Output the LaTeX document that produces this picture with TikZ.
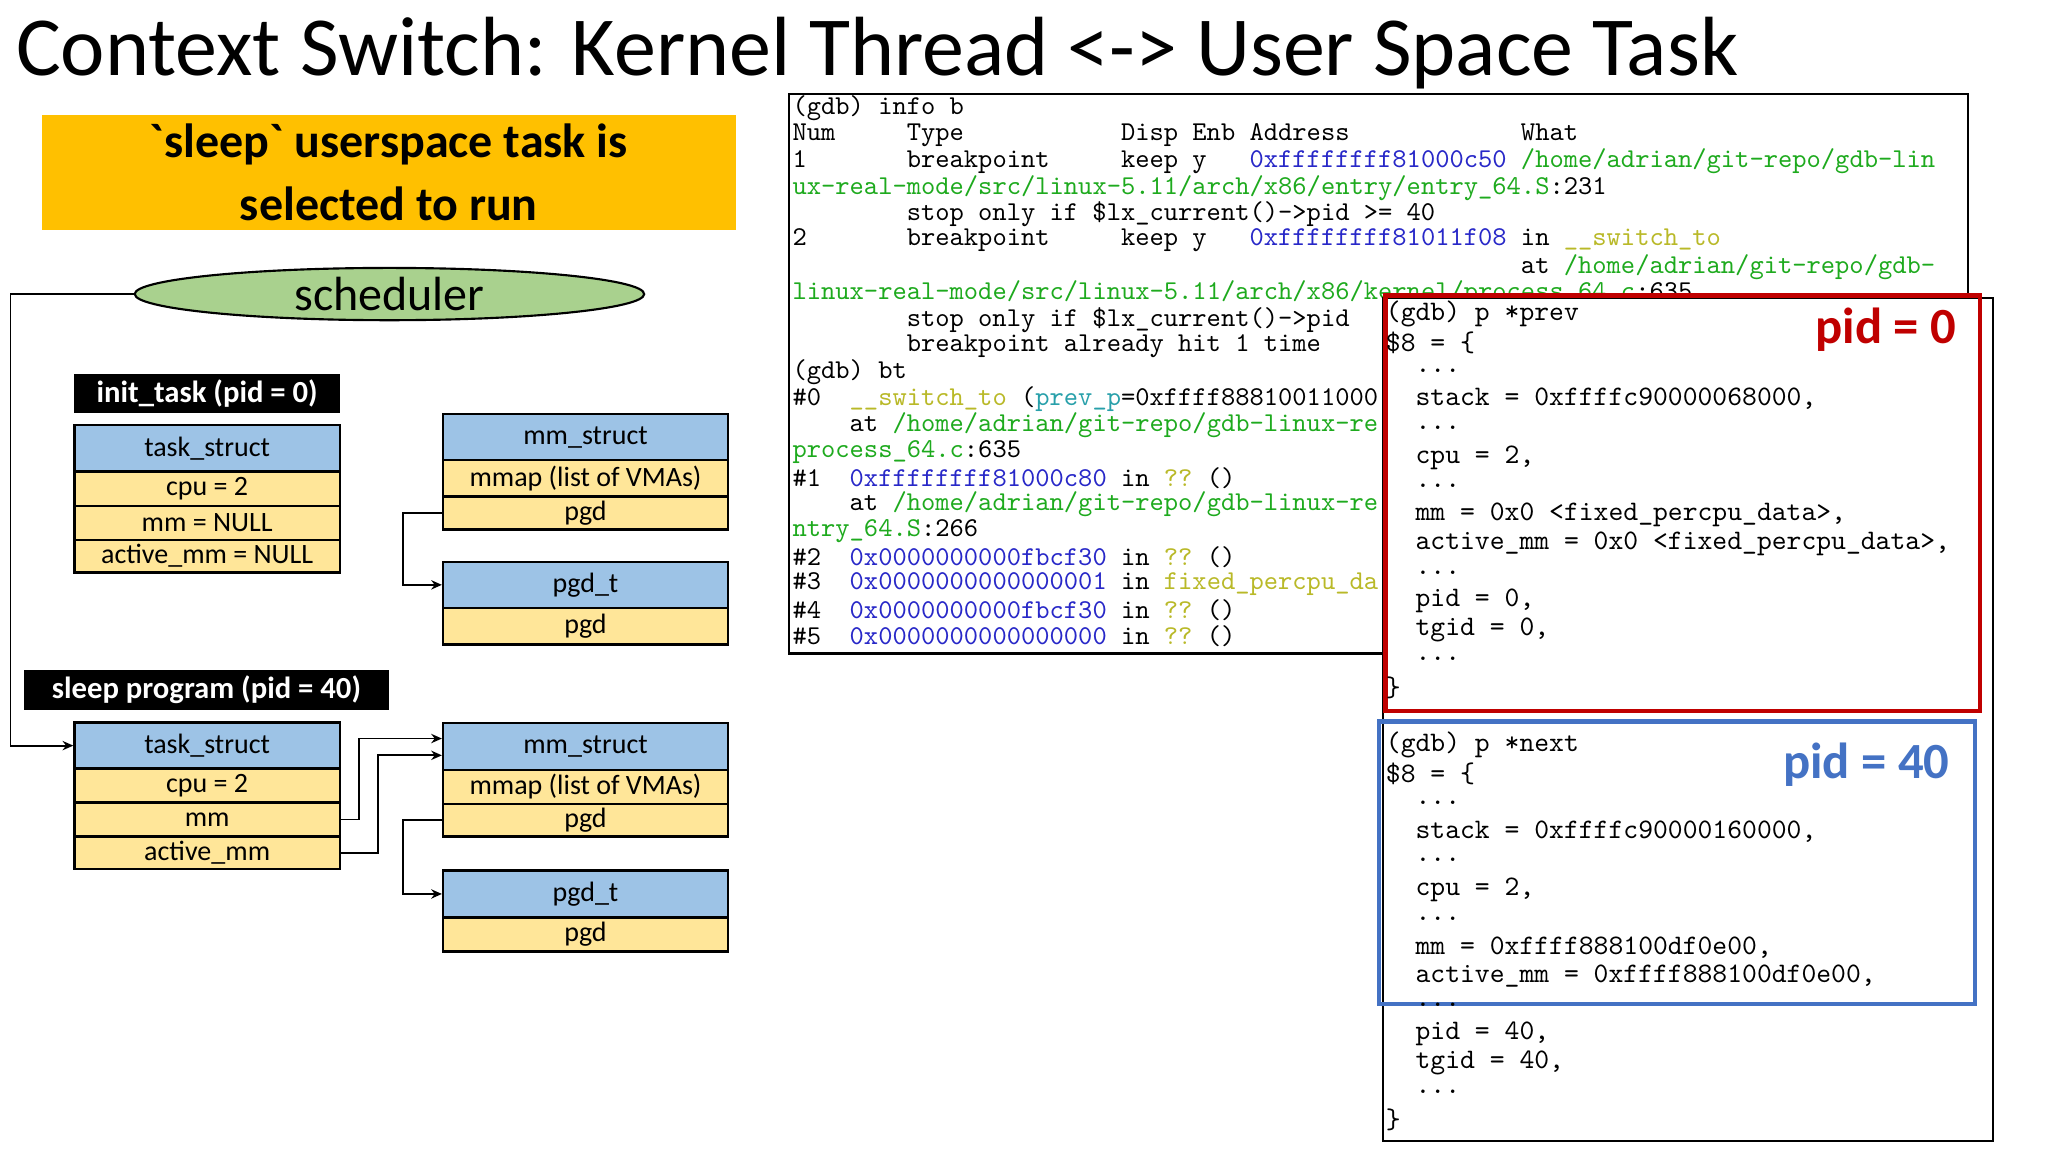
\documentclass[tikz,border=0pt]{standalone}
\usepackage{fontspec}
\setmainfont{Carlito}
\usetikzlibrary{arrows.meta,shapes.geometric}
\definecolor{hblue}{RGB}{157,195,230}
\definecolor{ryel}{RGB}{255,230,153}
\definecolor{org}{RGB}{255,192,0}
\definecolor{sgreen}{RGB}{169,209,142}
\definecolor{gg}{RGB}{30,170,30}
\definecolor{gb}{RGB}{40,40,200}
\definecolor{gy}{RGB}{185,185,40}
\definecolor{gc}{RGB}{40,160,170}
\definecolor{pred}{RGB}{192,0,0}
\definecolor{pblue}{RGB}{68,114,196}
\newcommand{\gl}[3]{\node[gline] (#1) at (606,{83+20.2*#2}) {#3};}
\newcommand{\pl}[3]{\node[pline] (#1) at (1060,#2) {#3};}
\newcommand{\G}[1]{\textcolor{gg}{#1}}
\newcommand{\B}[1]{\textcolor{gb}{#1}}
\newcommand{\Y}[1]{\textcolor{gy}{#1}}
\begin{document}
\begin{tikzpicture}[x=0.49pt,y=-0.49pt,
  tb/.style={draw, line width=0.9pt, inner sep=0pt, font=\fontsize{10.5}{12}\selectfont},
  hdr/.style={tb, fill=hblue, minimum width=99.5pt, minimum height=17.4pt},
  row/.style={tb, fill=ryel, minimum width=99.5pt},
  mhdr/.style={hdr, minimum width=106.8pt},
  mrow/.style={row, minimum width=106.8pt},
  lbl/.style={fill=black, text=white, inner sep=0pt, minimum height=14.7pt, font=\bfseries\fontsize{11.5}{13}\selectfont},
  arr/.style={draw, line width=0.7pt, -{Stealth[length=4pt,width=3.5pt]}},
  gline/.style={anchor=west, inner sep=0pt, font=\ttfamily\fontsize{10.2}{11}\selectfont},
  pline/.style={anchor=west, inner sep=0pt, font=\ttfamily\fontsize{10.6}{12}\selectfont},
  pidlbl/.style={font=\bfseries\fontsize{19}{22}\selectfont, inner sep=0pt}]
\useasboundingbox (0,0) rectangle (1567,881);
\fill[white] (0,0) rectangle (1567,881);
% title
\node[anchor=base west, inner sep=0pt, font=\fontsize{31.5}{36}\selectfont] (title) at (12,58) {Context Switch: Kernel Thread <-> User Space Task};
% orange box
\node[fill=org, minimum width=260.2pt, minimum height=43.1pt, align=center, inner sep=0pt, font=\bfseries\fontsize{18}{23.5}\selectfont] (sel) at (297.5,132) {\textasciigrave sleep\textasciigrave{} userspace task is\\selected to run};
% scheduler
\node[ellipse, draw, fill=sgreen, line width=0.8pt, minimum width=191pt, minimum height=19.6pt, inner sep=0pt, font=\fontsize{18}{20}\selectfont] (sched) at (298,225) {scheduler};
% init task
\node[lbl, minimum width=99.5pt] (initl) at (158.5,301) {init\_task (pid = 0)};
\node[hdr] (t1h) at (158.5,343) {task\_struct};
\node[row, minimum height=12.7pt] (t1a) at (158.5,374) {cpu = 2};
\node[row, minimum height=12.7pt] (t1b) at (158.5,400) {mm = NULL};
\node[row, minimum height=12.3pt] (t1c) at (158.5,425.5) {active\_mm = NULL};
\node[mhdr, minimum height=17.2pt] (m1h) at (448,334.5) {mm\_struct};
\node[mrow, minimum height=13.7pt] (m1a) at (448,366) {mmap (list of VMAs)};
\node[mrow, minimum height=12.3pt] (m1b) at (448,392.5) {pgd};
\node[mhdr, minimum height=17.2pt] (p1h) at (448,447.5) {pgd\_t};
\node[mrow, minimum height=13.7pt] (p1a) at (448,479) {pgd};
\draw[arr] (m1b.west) -- ++(-30,0) |- (p1h.west);
% sleep program
\node[lbl, minimum width=137.2pt] (sleepl) at (158,528) {sleep program (pid = 40)};
\node[hdr] (t2h) at (158.5,570.5) {task\_struct};
\node[row, minimum height=12.7pt] (t2a) at (158.5,601) {cpu = 2};
\node[row, minimum height=12.7pt] (t2b) at (158.5,627) {mm};
\node[row, minimum height=12.3pt] (t2c) at (158.5,652.5) {active\_mm};
\node[mhdr, minimum height=17.6pt] (m2h) at (448,571) {mm\_struct};
\node[mrow, minimum height=12.7pt] (m2a) at (448,602) {mmap (list of VMAs)};
\node[mrow, minimum height=12.3pt] (m2b) at (448,627.5) {pgd};
\node[mhdr, minimum height=17.6pt] (p2h) at (448,684) {pgd\_t};
\node[mrow, minimum height=12.7pt] (p2a) at (448,715) {pgd};
\draw[arr] (t2b.east) -- ++(14,0) |- ([yshift=2.9pt]m2h.west);
\draw[arr] (t2c.east) -- ++(28,0) |- ([yshift=-3.4pt]m2h.west);
\draw[arr] (m2b.west) -- ++(-30,0) |- (p2h.west);
\coordinate (c1) at (8,225);
\draw[arr] (sched.west) -- (c1) |- (t2h.west);
% gdb box
\draw[line width=0.8pt] (604,72) rectangle (1506,500);
\gl{g0}{0}{(gdb)~info~b}
\gl{g1}{1}{Num~~~~~Type~~~~~~~~~~~Disp~Enb~Address~~~~~~~~~~~~What}
\gl{g2}{2}{1~~~~~~~breakpoint~~~~~keep~y~~~\B{0xffffffff81000c50}~\G{/home/adrian/git-repo/gdb-lin}}
\gl{g3}{3}{\G{ux-real-mode/src/linux-5.11/arch/x86/entry/entry\_64.S}:231}
\gl{g4}{4}{~~~~~~~~stop~only~if~\$lx\_current()->pid~>=~40}
\gl{g5}{5}{2~~~~~~~breakpoint~~~~~keep~y~~~\B{0xffffffff81011f08}~in~\Y{\_\_switch\_to}}
\gl{g6}{6}{~~~~~~~~~~~~~~~~~~~~~~~~~~~~~~~~~~~~~~~~~~~~~~~~~~~at~\G{/home/adrian/git-repo/gdb-}}
\gl{g7}{7}{\G{linux-real-mode/src/linux-5.11/arch/x86/kernel/process\_64.c}:635}
\gl{g8}{8}{~~~~~~~~stop~only~if~\$lx\_current()->pid}
\gl{g9}{9}{~~~~~~~~breakpoint~already~hit~1~time}
\gl{g10}{10}{(gdb)~bt}
\gl{g11}{11}{\#0~~\Y{\_\_switch\_to}~(\textcolor{gc}{prev\_p}=0xffff88810011000}
\gl{g12}{12}{~~~~at~\G{/home/adrian/git-repo/gdb-linux-re}}
\gl{g13}{13}{\G{process\_64.c}:635}
\gl{g14}{14}{\#1~~\B{0xffffffff81000c80}~in~\Y{??}~()}
\gl{g15}{15}{~~~~at~\G{/home/adrian/git-repo/gdb-linux-re}}
\gl{g16}{16}{\G{ntry\_64.S}:266}
\gl{g17}{17}{\#2~~\B{0x0000000000fbcf30}~in~\Y{??}~()}
\gl{g18}{18}{\#3~~\B{0x0000000000000001}~in~\Y{fixed\_percpu\_da}}
\gl{g19}{19}{\#4~~\B{0x0000000000fbcf30}~in~\Y{??}~()}
\gl{g20}{20}{\#5~~\B{0x0000000000000000}~in~\Y{??}~()}
% print boxes
\draw[line width=0.8pt, fill=white] (1058,228) rectangle (1525,873);
\draw[pred, line width=1.6pt] (1060,226) rectangle (1515,544);
\draw[pblue, line width=1.6pt] (1055,552) rectangle (1511,768);
\node[pidlbl, text=pred] (pid0) at (1443,252) {pid = 0};
\node[pidlbl, text=pblue] (pid40) at (1428,585) {pid = 40};
\pl{a0}{240}{(gdb)~p~*prev}
\pl{a1}{262}{\$8~=~\{}
\pl{a2}{284}{~~...}
\pl{a3}{305}{~~stack~=~0xffffc90000068000,}
\pl{a4}{327}{~~...}
\pl{a5}{350}{~~cpu~=~2,}
\pl{a6}{372}{~~...}
\pl{a7}{394}{~~mm~=~0x0~<fixed\_percpu\_data>,}
\pl{a8}{416}{~~active\_mm~=~0x0~<fixed\_percpu\_data>,}
\pl{a9}{438}{~~...}
\pl{a10}{460}{~~pid~=~0,}
\pl{a11}{482}{~~tgid~=~0,}
\pl{a12}{504}{~~...}
\pl{a13}{526}{\}}
\pl{b0}{570}{(gdb)~p~*next}
\pl{b1}{592}{\$8~=~\{}
\pl{b2}{614}{~~...}
\pl{b3}{636}{~~stack~=~0xffffc90000160000,}
\pl{b4}{658}{~~...}
\pl{b5}{681}{~~cpu~=~2,}
\pl{b6}{703}{~~...}
\pl{b7}{725}{~~mm~=~0xffff888100df0e00,}
\pl{b8}{747}{~~active\_mm~=~0xffff888100df0e00,}
\pl{b9}{769}{~~...}
\pl{b10}{791}{~~pid~=~40,}
\pl{b11}{813}{~~tgid~=~40,}
\pl{b12}{835}{~~...}
\pl{b13}{857}{\}}
\end{tikzpicture}
\end{document}
